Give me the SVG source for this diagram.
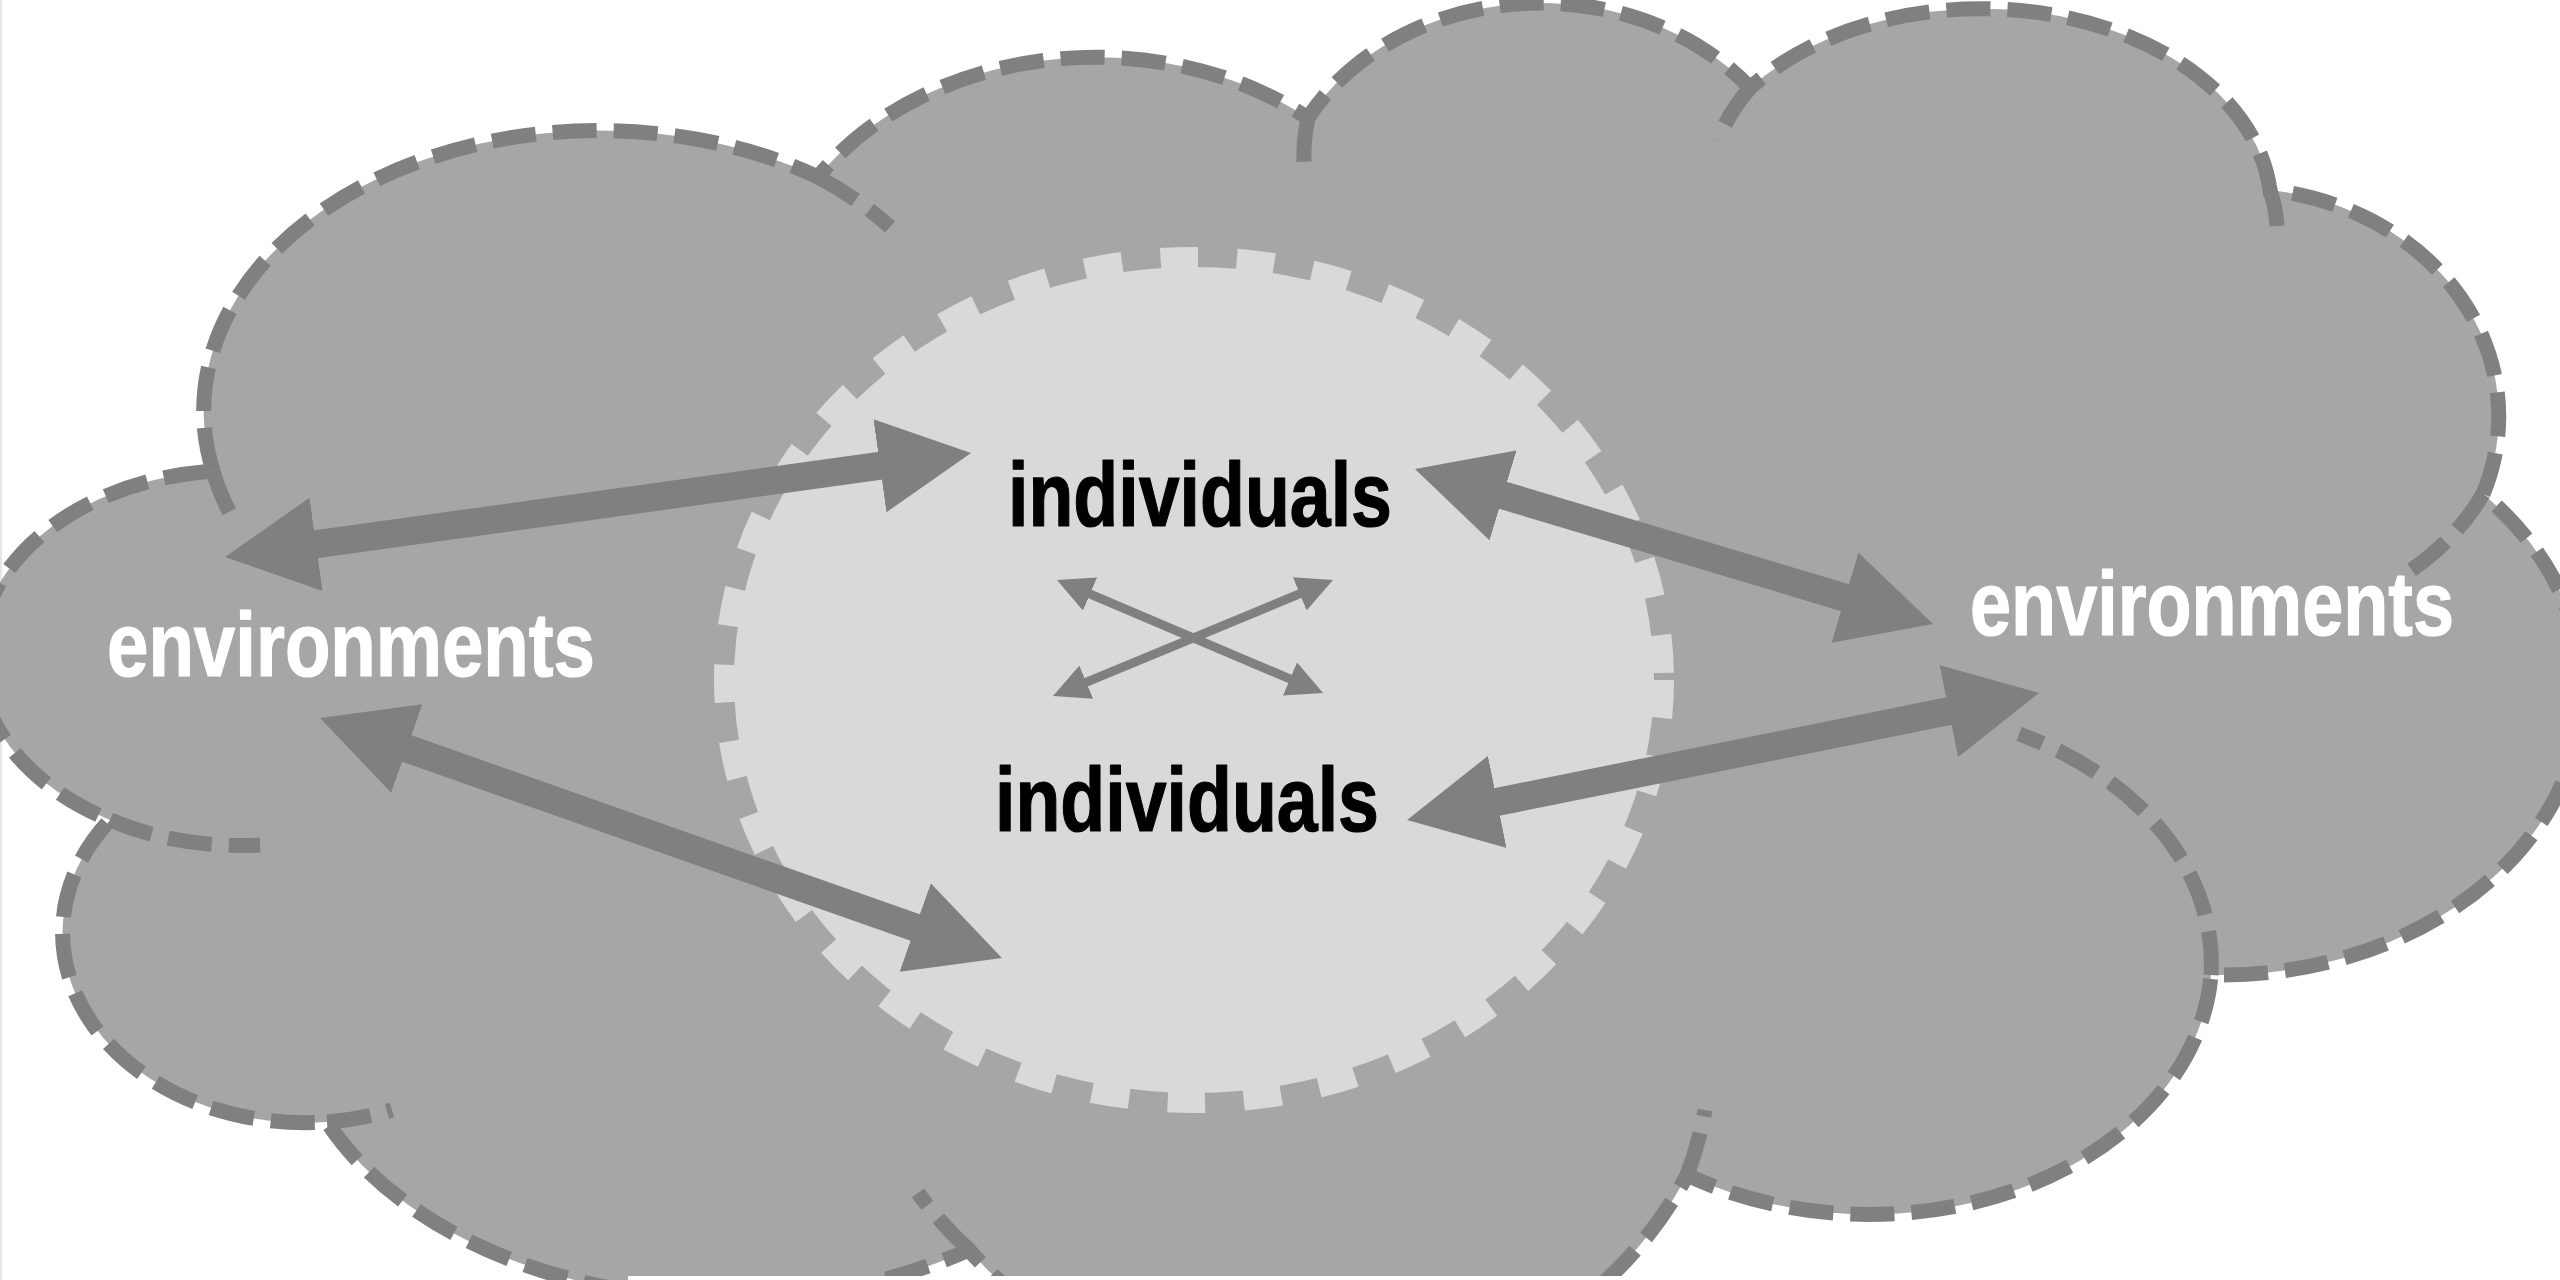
<svg xmlns="http://www.w3.org/2000/svg" width="2560" height="1280" viewBox="0 0 2560 1280">
<style>
.cloud{fill:#a6a6a6;stroke:#808080;stroke-width:15;stroke-dasharray:44 17;stroke-linejoin:miter}
.inarc{fill:none;stroke:#808080;stroke-width:15;stroke-dasharray:44 17}
.core{fill:#d9d9d9;stroke:#d9d9d9;stroke-width:40;stroke-dasharray:37 38}
.big{stroke:#808080;stroke-width:28;fill:none}
.small{stroke:#808080;stroke-width:9;fill:none}
.lbl{font-family:"Liberation Sans",Arial,Helvetica,sans-serif;font-weight:bold;font-size:75px;stroke-width:1;stroke-linejoin:round}
.dark{fill:#000000;stroke:#000000}
.light{fill:#ffffff;stroke:#ffffff}
</style>
<defs>
<marker id="bigHead" markerUnits="userSpaceOnUse" viewBox="0 0 92 94" markerWidth="92" markerHeight="94" refX="3" refY="47" orient="auto-start-reverse">
<path d="M0,0 L92,47 L0,94 Z" fill="#808080"/>
</marker>
<marker id="smallHead" markerUnits="userSpaceOnUse" viewBox="0 0 36 36" markerWidth="36" markerHeight="36" refX="3" refY="18" orient="auto-start-reverse">
<path d="M0,0 L36,18 L0,36 Z" fill="#808080"/>
</marker>
</defs>
<rect x="0" y="0" width="2560" height="1280" fill="#ffffff"/>
<rect x="0" y="0" width="2" height="1280" fill="#e6e6e6"/>
<g id="environments-cloud">
<path class="cloud" d="M213,471 A396,280 0 0 1 818,177 A330,260 0 0 1 1308,118 A265,220 0 0 1 1750,88 A290,200 0 0 1 2270,190 A262,228 0 0 1 2483,494 A362,285 0 0 1 2211,975 A342,255 0 0 1 1687,1175 A425,384 0 0 1 969,1250 A440,300 0 0 1 327,1122 A243,190 0 0 1 110,820 A259,187 0 0 1 213,471 Z"/>
<path class="inarc" d="M213,471 A396,280 0 0 0 230,513"/>
<path class="inarc" d="M818,177 A396,280 0 0 1 890,227"/>
<path class="inarc" d="M1308,118 A265,220 0 0 0 1304,163"/>
<path class="inarc" d="M1750,88 A290,200 0 0 0 1718,140"/>
<path class="inarc" d="M2270,190 A290,200 0 0 1 2277,226"/>
<path class="inarc" d="M2483,494 A262,228 0 0 1 2410,571"/>
<path class="inarc" d="M2211,975 A342,255 0 0 0 2019,734"/>
<path class="inarc" d="M1687,1175 A425,384 0 0 0 1705,1110"/>
<path class="inarc" d="M969,1250 A425,384 0 0 1 918,1193"/>
<path class="inarc" d="M327,1122 A243,190 0 0 0 392,1110"/>
<path class="inarc" d="M110,820 A259,187 0 0 0 260,845"/>
</g>
<rect x="628" y="1276" width="997" height="4" fill="#ffffff"/>
<g id="individuals-core">
<ellipse class="core" cx="1194" cy="680" rx="460" ry="413"/>
</g>
<g id="connectors">
<line class="big" x1="313.1" y1="544.7" x2="882.9" y2="465.3" marker-start="url(#bigHead)" marker-end="url(#bigHead)"/>
<line class="big" x1="404.0" y1="747.5" x2="918.0" y2="928.5" marker-start="url(#bigHead)" marker-end="url(#bigHead)"/>
<line class="big" x1="1500.2" y1="494.5" x2="1847.8" y2="598.5" marker-start="url(#bigHead)" marker-end="url(#bigHead)"/>
<line class="big" x1="1494.3" y1="802.5" x2="1951.7" y2="710.5" marker-start="url(#bigHead)" marker-end="url(#bigHead)"/>
<line class="small" x1="1087.3" y1="592.9" x2="1292.7" y2="680.1" marker-start="url(#smallHead)" marker-end="url(#smallHead)"/>
<line class="small" x1="1083.5" y1="683.3" x2="1302.5" y2="592.7" marker-start="url(#smallHead)" marker-end="url(#smallHead)"/>
</g>
<g id="label-individuals-top">
<text class="lbl dark" transform="translate(1008,526) scale(1,1.2133)" x="0" y="0" textLength="384" lengthAdjust="spacingAndGlyphs">individuals</text>
</g>
<g id="label-individuals-bottom">
<text class="lbl dark" transform="translate(995,831) scale(1,1.2133)" x="0" y="0" textLength="384" lengthAdjust="spacingAndGlyphs">individuals</text>
</g>
<g id="label-environments-left">
<text class="lbl light" transform="translate(107,676) scale(1,1.2133)" x="0" y="0" textLength="488" lengthAdjust="spacingAndGlyphs">environments</text>
</g>
<g id="label-environments-right">
<text class="lbl light" transform="translate(1970,635) scale(1,1.2133)" x="0" y="0" textLength="484" lengthAdjust="spacingAndGlyphs">environments</text>
</g>
</svg>
